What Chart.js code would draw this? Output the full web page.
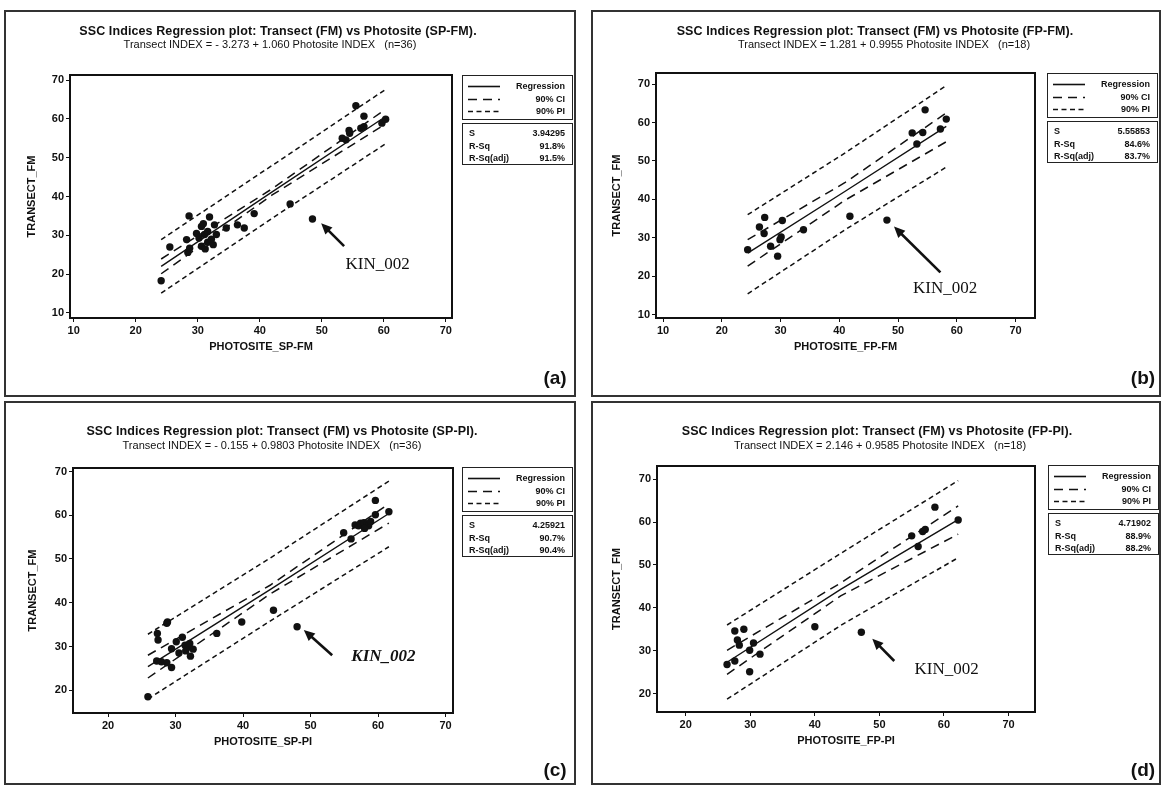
<!DOCTYPE html>
<html><head><meta charset="utf-8">
<script src="https://cdn.jsdelivr.net/npm/chart.js@4.4.1/dist/chart.umd.min.js"></script>
<style>
html,body{margin:0;padding:0;background:#fff;}
#wrap{position:relative;width:1164px;height:786px;overflow:hidden;background:#fff;font-family:"Liberation Sans",Arial,sans-serif;color:#111;}
.panel{position:absolute;}
.panel canvas{position:absolute;left:0;top:0;}
.frame{position:absolute;border:2px solid #333;box-sizing:border-box;pointer-events:none;}
.ttl{position:absolute;white-space:nowrap;transform:translate(-50%,-50%);font-weight:bold;font-size:12.5px;letter-spacing:0.1px;}
.sub{position:absolute;white-space:nowrap;transform:translate(-50%,-50%);font-size:11px;}
.box{position:absolute;border:1.5px solid #222;box-sizing:border-box;background:#fff;font-size:9px;font-weight:bold;}
.row{position:absolute;left:0;right:0;height:12px;line-height:12px;}
.row svg{position:absolute;left:5px;top:5px;}
.row .r{position:absolute;right:7px;top:0;}
.row .l{position:absolute;left:6px;top:0;}
.letter{position:absolute;font-weight:bold;font-size:19px;transform:translate(-50%,-50%);}
</style>
</head><body>
<div id="wrap"></div>
<script>
// ---------- data ----------
const xTicksAB = [10, 20, 30, 40, 50, 60, 70];
const yTicksAB = [10, 20, 30, 40, 50, 60, 70];
const xTicksCD = [20, 30, 40, 50, 60, 70];
const yTicksCD = [20, 30, 40, 50, 60, 70];

// (a) SP-FM
const aPhotosite = [24.1,25.5,28.6,28.2,28.4,28.7,30.6,31.1,30.2,30.6,31.6,32.7,33.0,32.5,31.6,29.8,31.2,32.2,30.9,31.9,34.6,36.4,37.5,39.1,44.9,48.5,53.3,53.9,54.4,54.5,55.5,56.3,56.8,56.8,59.7,60.3];
const aTransect  = [18.3,27.0,35.0,28.9,25.6,26.7,32.3,30.2,29.3,27.2,28.2,32.7,30.2,27.6,31.0,30.5,26.5,29.0,33.0,34.7,31.9,32.7,31.9,35.6,38.1,34.2,55.0,54.6,57.0,56.3,63.4,57.6,60.7,58.0,58.9,59.9];
const aLineX = [24.1, 42, 60.3];
const aReg   = [22.0, 41.2, 60.6];
const aCiUp  = [23.9, 42.0, 62.5];
const aCiLo  = [20.1, 40.4, 58.7];
const aPiUp  = [28.9, 48.0, 67.6];
const aPiLo  = [15.1, 34.4, 53.6];

// (b) FP-FM
const bPhotosite = [24.4,26.4,27.3,27.2,28.3,29.5,29.9,30.1,30.3,33.9,41.8,48.1,52.4,53.2,54.2,54.6,57.2,58.2];
const bTransect  = [26.9,32.8,35.3,31.1,27.8,25.2,29.5,30.2,34.5,32.1,35.6,34.6,57.3,54.4,57.4,63.3,58.3,60.9];
const bLineX = [24.4, 41, 58.2];
const bReg   = [26.0, 42.1, 59.0];
const bCiUp  = [29.5, 44.4, 62.5];
const bCiLo  = [22.6, 39.8, 55.0];
const bPiUp  = [36.0, 52.1, 69.6];
const bPiLo  = [15.4, 32.1, 48.4];

// (c) SP-PI
const cPhotosite = [25.9,27.3,27.4,28.7,28.8,27.2,27.9,28.7,29.4,29.4,30.1,31.0,31.4,31.9,32.1,32.2,36.1,39.8,44.5,48.0,54.9,56.0,56.6,57.1,57.4,57.9,58.4,58.6,59.6,59.6,61.6,30.5,31.5,32.6,58.0,58.9];
const cTransect  = [18.5,33.0,31.5,35.3,35.6,26.7,26.5,26.3,25.2,29.5,31.1,32.1,30.3,29.9,30.7,27.8,33.0,35.6,38.3,34.5,56.0,54.6,57.8,57.6,58.2,58.3,58.0,57.6,63.4,60.1,60.8,28.5,29.0,29.4,57.0,58.6];
const cLineX = [25.9, 44, 61.6];
const cReg   = [25.4, 43.0, 60.4];
const cCiUp  = [28.0, 44.0, 62.6];
const cCiLo  = [22.8, 42.0, 58.2];
const cPiUp  = [32.8, 50.2, 67.8];
const cPiLo  = [18.0, 35.8, 52.8];

// (d) FP-PI
const dPhotosite = [26.4,27.6,27.6,28.0,28.3,29.0,29.9,29.9,30.5,31.5,40.0,47.2,55.0,56.0,56.7,57.1,58.6,62.2];
const dTransect  = [26.8,27.6,34.6,32.5,31.3,35.0,30.1,25.1,31.8,29.2,35.6,34.3,56.8,54.3,57.8,58.3,63.5,60.5];
const dLineX = [26.4, 44, 62.2];
const dReg   = [27.3, 44.3, 60.6];
const dCiUp  = [30.1, 45.8, 63.8];
const dCiLo  = [24.5, 42.8, 57.2];
const dPiUp  = [36.0, 52.7, 69.7];
const dPiLo  = [18.7, 35.9, 51.7];

const titles = [
  'SSC Indices Regression plot: Transect (FM) vs Photosite (SP-FM).',
  'SSC Indices Regression plot: Transect (FM) vs Photosite (FP-FM).',
  'SSC Indices Regression plot: Transect (FM) vs Photosite (SP-PI).',
  'SSC Indices Regression plot: Transect (FM) vs Photosite (FP-PI).'
];
const subtitles = [
  'Transect INDEX = - 3.273 + 1.060 Photosite INDEX \u00a0\u00a0(n=36)',
  'Transect INDEX = 1.281 + 0.9955 Photosite INDEX \u00a0\u00a0(n=18)',
  'Transect INDEX = - 0.155 + 0.9803 Photosite INDEX \u00a0\u00a0(n=36)',
  'Transect INDEX = 2.146 + 0.9585 Photosite INDEX \u00a0\u00a0(n=18)'
];
const xLabels = ['PHOTOSITE_SP-FM', 'PHOTOSITE_FP-FM', 'PHOTOSITE_SP-PI', 'PHOTOSITE_FP-PI'];
const yLabel = 'TRANSECT_FM';
const statS   = ['3.94295', '5.55853', '4.25921', '4.71902'];
const statRsq = ['91.8%', '84.6%', '90.7%', '88.9%'];
const statAdj = ['91.5%', '83.7%', '90.4%', '88.2%'];
const legendLabels = ['Regression', '90% CI', '90% PI'];
const panelLetters = ['(a)', '(b)', '(c)', '(d)'];
const outlierName = 'KIN_002';

// ---------- layout ----------
const panels = [
  {px:4,   py:10,  w:572, h:387, plot:[66,65,448,308], yTitleX:28, xr:[9.4,71],   yr:[8.7,71.3],  xt:xTicksAB, yt:yTicksAB,
   pts:[aPhotosite,aTransect], lines:[aLineX,aReg,aCiUp,aCiLo,aPiUp,aPiLo],
   ann:{text:[59.0,22.4], from:[53.6,27.2], to:[49.9,33.1], font:'17px "Liberation Serif"'},
   ttl:[278,31], sub:[270,44], leg:[462,75], letter:[555,378]},
  {px:591, py:10,  w:570, h:387, plot:[65,63,444,308], yTitleX:26, xr:[8.8,73.3], yr:[9.1,72.9],  xt:xTicksAB, yt:yTicksAB,
   pts:[bPhotosite,bTransect], lines:[bLineX,bReg,bCiUp,bCiLo,bPiUp,bPiLo],
   ann:{text:[58.0,16.7], from:[57.2,21.0], to:[49.3,32.9], font:'17px "Liberation Serif"'},
   ttl:[875,31], sub:[884,44], leg:[1047,73], letter:[1143,378]},
  {px:4,   py:401, w:572, h:384, plot:[69,67,449,312], yTitleX:29, xr:[14.8,71.1], yr:[14.8,70.8], xt:xTicksCD, yt:yTicksCD,
   pts:[cPhotosite,cTransect], lines:[cLineX,cReg,cCiUp,cCiLo,cPiUp,cPiLo],
   ann:{text:[60.8,27.8], from:[53.2,28.0], to:[49.0,33.8], font:'italic bold 17px "Liberation Serif"'},
   ttl:[282,431], sub:[272,445], leg:[462,467], letter:[555,770]},
  {px:591, py:401, w:570, h:384, plot:[66,65,444,311], yTitleX:26, xr:[15.55,74.1], yr:[15.7,73.1], xt:xTicksCD, yt:yTicksCD,
   pts:[dPhotosite,dTransect], lines:[dLineX,dReg,dCiUp,dCiLo,dPiUp,dPiLo],
   ann:{text:[60.4,25.6], from:[52.3,27.6], to:[48.9,32.8], font:'17px "Liberation Serif"'},
   ttl:[877,431], sub:[880,445], leg:[1048,465], letter:[1143,770]}
];

const INK = '#111';
const FONT = '"Liberation Sans", Arial, sans-serif';

const framePlugin = {
  id: 'plotFrame',
  afterDraw(chart) {
    const {ctx, chartArea: a} = chart;
    ctx.save();
    ctx.strokeStyle = INK; ctx.lineWidth = 2;
    ctx.strokeRect(a.left, a.top, a.right - a.left, a.bottom - a.top);
    ctx.restore();
  }
};
const annPlugin = {
  id: 'kin',
  afterDatasetsDraw(chart, args, o) {
    const {ctx} = chart, xs = chart.scales.x, ys = chart.scales.y;
    ctx.save();
    ctx.fillStyle = INK; ctx.strokeStyle = INK;
    ctx.font = o.font; ctx.textAlign = 'center'; ctx.textBaseline = 'middle';
    ctx.fillText(outlierName, xs.getPixelForValue(o.text[0]), ys.getPixelForValue(o.text[1]));
    const x1 = xs.getPixelForValue(o.from[0]), y1 = ys.getPixelForValue(o.from[1]);
    const x2 = xs.getPixelForValue(o.to[0]),   y2 = ys.getPixelForValue(o.to[1]);
    const ang = Math.atan2(y2 - y1, x2 - x1), c = Math.cos(ang), s = Math.sin(ang);
    ctx.lineWidth = 2.6; ctx.lineCap = 'butt';
    ctx.beginPath(); ctx.moveTo(x1, y1); ctx.lineTo(x2 - 8 * c, y2 - 8 * s); ctx.stroke();
    ctx.beginPath();
    ctx.moveTo(x2, y2);
    ctx.lineTo(x2 - 11 * c + 5 * s, y2 - 11 * s - 5 * c);
    ctx.lineTo(x2 - 11 * c - 5 * s, y2 - 11 * s + 5 * c);
    ctx.closePath(); ctx.fill();
    ctx.restore();
  }
};

function pairs(xs, ys) { return xs.map((x, i) => ({x: x, y: ys[i]})); }

const wrap = document.getElementById('wrap');

panels.forEach((p, i) => {
  const div = document.createElement('div');
  div.className = 'panel';
  div.style.left = p.px + 'px'; div.style.top = p.py + 'px';
  div.style.width = p.w + 'px'; div.style.height = p.h + 'px';
  const cv = document.createElement('canvas');
  cv.width = p.w; cv.height = p.h;
  cv.style.width = p.w + 'px'; cv.style.height = p.h + 'px';
  div.appendChild(cv);
  wrap.appendChild(div);

  const fr = document.createElement('div');
  fr.className = 'frame';
  fr.style.left = p.px + 'px'; fr.style.top = p.py + 'px';
  fr.style.width = p.w + 'px'; fr.style.height = p.h + 'px';
  wrap.appendChild(fr);

  const [pl, pt, pr, pb] = p.plot;
  const xAxisH = 45;
  const [lx, lReg, lCiU, lCiL, lPiU, lPiL] = p.lines;
  const lineDs = (ys, dash, w) => ({
    type: 'scatter', data: pairs(lx, ys), showLine: true, pointRadius: 0,
    borderColor: INK, borderWidth: w, borderDash: dash, fill: false, tension: 0
  });

  new Chart(cv, {
    type: 'scatter',
    data: {
      datasets: [
        {data: pairs(p.pts[0], p.pts[1]), pointRadius: 3.7, pointBackgroundColor: INK, pointBorderColor: INK, pointBorderWidth: 0, showLine: false},
        lineDs(lReg, [], 1.4),
        lineDs(lCiU, [9, 6], 1.5),
        lineDs(lCiL, [9, 6], 1.5),
        lineDs(lPiU, [5, 3.5], 1.5),
        lineDs(lPiL, [5, 3.5], 1.5)
      ]
    },
    options: {
      responsive: false, animation: false, devicePixelRatio: 1,
      layout: {padding: {left: 0, top: pt, right: p.w - pr, bottom: p.h - pb - xAxisH}},
      plugins: {legend: {display: false}, tooltip: {enabled: false}, title: {display: false}, kin: p.ann},
      scales: {
        x: {
          type: 'linear', min: p.xr[0], max: p.xr[1],
          afterBuildTicks: s => { s.ticks = p.xt.map(v => ({value: v})); },
          afterFit: s => { s.height = xAxisH; },
          grid: {display: true, drawOnChartArea: false, drawTicks: true, tickLength: 4, color: INK, lineWidth: 1},
          border: {display: false},
          ticks: {color: INK, padding: 2, autoSkip: false, maxRotation: 0, font: {family: FONT, weight: 'bold', size: 11}, callback: v => String(v)},
          title: {display: true, text: xLabels[i], color: INK, font: {family: FONT, weight: 'bold', size: 11}, padding: {top: 0, bottom: 9}}
        },
        y: {
          type: 'linear', min: p.yr[0], max: p.yr[1],
          afterBuildTicks: s => { s.ticks = p.yt.map(v => ({value: v})); },
          afterFit: s => { s.width = pl; },
          grid: {display: true, drawOnChartArea: false, drawTicks: true, tickLength: 4, color: INK, lineWidth: 1},
          border: {display: false},
          ticks: {color: INK, padding: 2, autoSkip: false, font: {family: FONT, weight: 'bold', size: 11}, callback: v => String(v)},
          title: {display: true, text: yLabel, color: INK, font: {family: FONT, weight: 'bold', size: 11}, padding: {top: p.yTitleX - 6.6, bottom: 0}}
        }
      }
    },
    plugins: [framePlugin, annPlugin]
  });

  // titles
  const t = document.createElement('div'); t.className = 'ttl'; t.textContent = titles[i];
  t.style.left = p.ttl[0] + 'px'; t.style.top = p.ttl[1] + 'px'; wrap.appendChild(t);
  const st = document.createElement('div'); st.className = 'sub'; st.textContent = subtitles[i];
  st.style.left = p.sub[0] + 'px'; st.style.top = p.sub[1] + 'px'; wrap.appendChild(st);

  // legend box
  const bw = 111;
  const lg = document.createElement('div'); lg.className = 'box';
  lg.style.left = p.leg[0] + 'px'; lg.style.top = p.leg[1] + 'px';
  lg.style.width = bw + 'px'; lg.style.height = '45px';
  const dashes = ['', '9,6', '5,3.5'];
  legendLabels.forEach((lab, k) => {
    const r = document.createElement('div'); r.className = 'row'; r.style.top = (4 + k * 12.5) + 'px';
    r.innerHTML = '<svg width="32" height="3"><line x1="0" y1="1.5" x2="32" y2="1.5" stroke="#111" stroke-width="1.6"' +
      (dashes[k] ? ' stroke-dasharray="' + dashes[k] + '"' : '') + '/></svg><span class="r">' + lab + '</span>';
    lg.appendChild(r);
  });
  wrap.appendChild(lg);

  const sb = document.createElement('div'); sb.className = 'box';
  sb.style.left = p.leg[0] + 'px'; sb.style.top = (p.leg[1] + 48) + 'px';
  sb.style.width = bw + 'px'; sb.style.height = '42px';
  [['S', statS[i]], ['R-Sq', statRsq[i]], ['R-Sq(adj)', statAdj[i]]].forEach((pr2, k) => {
    const r = document.createElement('div'); r.className = 'row'; r.style.top = (3 + k * 12.5) + 'px';
    r.innerHTML = '<span class="l">' + pr2[0] + '</span><span class="r">' + pr2[1] + '</span>';
    sb.appendChild(r);
  });
  wrap.appendChild(sb);

  const le = document.createElement('div'); le.className = 'letter'; le.textContent = panelLetters[i];
  le.style.left = p.letter[0] + 'px'; le.style.top = p.letter[1] + 'px'; wrap.appendChild(le);
});
</script>
</body></html>
